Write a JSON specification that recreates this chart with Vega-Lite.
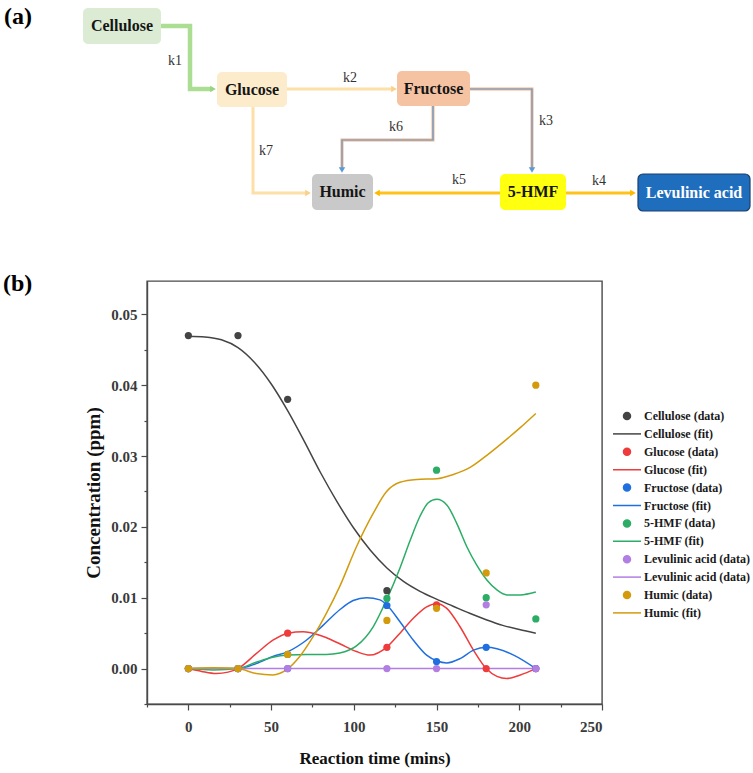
{
  "$schema": "https://vega.github.io/schema/vega-lite/v6.json",
  "autosize": {"type": "none"},
  "padding": {"left": 147, "top": 281, "right": 151, "bottom": 69},
  "width": 455,
  "height": 423,
  "background": "white",
  "config": {
    "font": "Liberation Serif",
    "view": {"stroke": "#4a4a4a", "strokeWidth": 1.4},
    "axis": {
      "grid": false,
      "domainColor": "#4a4a4a",
      "domainWidth": 1.4,
      "tickColor": "#4a4a4a",
      "tickWidth": 1.2,
      "labelFont": "Liberation Serif",
      "labelFontWeight": "bold",
      "labelFontSize": 15,
      "labelColor": "#3a3a3a",
      "titleFont": "Liberation Serif",
      "titleFontWeight": "bold",
      "titleColor": "#111111"
    }
  },
  "datasets": {
    "measured": [
      {"series": "Cellulose (data)", "time": 0, "conc": 0.047},
      {"series": "Cellulose (data)", "time": 30, "conc": 0.047},
      {"series": "Cellulose (data)", "time": 60, "conc": 0.038},
      {"series": "Cellulose (data)", "time": 120, "conc": 0.011},
      {"series": "Glucose (data)", "time": 0, "conc": 0},
      {"series": "Glucose (data)", "time": 30, "conc": 0},
      {"series": "Glucose (data)", "time": 60, "conc": 0.005},
      {"series": "Glucose (data)", "time": 120, "conc": 0.003},
      {"series": "Glucose (data)", "time": 150, "conc": 0.009},
      {"series": "Glucose (data)", "time": 180, "conc": 0},
      {"series": "Glucose (data)", "time": 210, "conc": 0},
      {"series": "Fructose (data)", "time": 0, "conc": 0},
      {"series": "Fructose (data)", "time": 30, "conc": 0},
      {"series": "Fructose (data)", "time": 60, "conc": 0},
      {"series": "Fructose (data)", "time": 120, "conc": 0.0089},
      {"series": "Fructose (data)", "time": 150, "conc": 0.001},
      {"series": "Fructose (data)", "time": 180, "conc": 0.003},
      {"series": "Fructose (data)", "time": 210, "conc": 0},
      {"series": "5-HMF (data)", "time": 0, "conc": 0},
      {"series": "5-HMF (data)", "time": 30, "conc": 0},
      {"series": "5-HMF (data)", "time": 60, "conc": 0.002},
      {"series": "5-HMF (data)", "time": 120, "conc": 0.0099},
      {"series": "5-HMF (data)", "time": 150, "conc": 0.028},
      {"series": "5-HMF (data)", "time": 180, "conc": 0.01},
      {"series": "5-HMF (data)", "time": 210, "conc": 0.007},
      {"series": "Levulinic acid (data)", "time": 0, "conc": 0},
      {"series": "Levulinic acid (data)", "time": 30, "conc": 0},
      {"series": "Levulinic acid (data)", "time": 60, "conc": 0},
      {"series": "Levulinic acid (data)", "time": 120, "conc": 0},
      {"series": "Levulinic acid (data)", "time": 150, "conc": 0},
      {"series": "Levulinic acid (data)", "time": 180, "conc": 0.009},
      {"series": "Levulinic acid (data)", "time": 210, "conc": 0},
      {"series": "Humic (data)", "time": 0, "conc": 0},
      {"series": "Humic (data)", "time": 30, "conc": 0},
      {"series": "Humic (data)", "time": 60, "conc": 0.002},
      {"series": "Humic (data)", "time": 120, "conc": 0.0068},
      {"series": "Humic (data)", "time": 150, "conc": 0.0085},
      {"series": "Humic (data)", "time": 180, "conc": 0.0135},
      {"series": "Humic (data)", "time": 210, "conc": 0.04}
    ],
    "fitted": [
      {"series": "Cellulose (fit)", "time": 0, "conc": 0.0469},
      {"series": "Cellulose (fit)", "time": 10, "conc": 0.0468},
      {"series": "Cellulose (fit)", "time": 20, "conc": 0.0464},
      {"series": "Cellulose (fit)", "time": 30, "conc": 0.0453},
      {"series": "Cellulose (fit)", "time": 40, "conc": 0.0432},
      {"series": "Cellulose (fit)", "time": 50, "conc": 0.0402},
      {"series": "Cellulose (fit)", "time": 60, "conc": 0.0364},
      {"series": "Cellulose (fit)", "time": 70, "conc": 0.0321},
      {"series": "Cellulose (fit)", "time": 80, "conc": 0.0276},
      {"series": "Cellulose (fit)", "time": 90, "conc": 0.0235},
      {"series": "Cellulose (fit)", "time": 100, "conc": 0.0198},
      {"series": "Cellulose (fit)", "time": 110, "conc": 0.0167},
      {"series": "Cellulose (fit)", "time": 120, "conc": 0.0142},
      {"series": "Cellulose (fit)", "time": 130, "conc": 0.0123},
      {"series": "Cellulose (fit)", "time": 140, "conc": 0.0109},
      {"series": "Cellulose (fit)", "time": 150, "conc": 0.0098},
      {"series": "Cellulose (fit)", "time": 160, "conc": 0.0088},
      {"series": "Cellulose (fit)", "time": 170, "conc": 0.0078},
      {"series": "Cellulose (fit)", "time": 180, "conc": 0.0069},
      {"series": "Cellulose (fit)", "time": 190, "conc": 0.0061},
      {"series": "Cellulose (fit)", "time": 200, "conc": 0.0055},
      {"series": "Cellulose (fit)", "time": 210, "conc": 0.005},
      {"series": "Glucose (fit)", "time": 0, "conc": 0},
      {"series": "Glucose (fit)", "time": 8, "conc": -0.0004},
      {"series": "Glucose (fit)", "time": 16.8, "conc": -0.0007},
      {"series": "Glucose (fit)", "time": 24, "conc": -0.0005},
      {"series": "Glucose (fit)", "time": 29.9, "conc": 0},
      {"series": "Glucose (fit)", "time": 41, "conc": 0.0021},
      {"series": "Glucose (fit)", "time": 51.1, "conc": 0.004},
      {"series": "Glucose (fit)", "time": 60.2, "conc": 0.005},
      {"series": "Glucose (fit)", "time": 69.3, "conc": 0.0052},
      {"series": "Glucose (fit)", "time": 79.4, "conc": 0.0047},
      {"series": "Glucose (fit)", "time": 91.5, "conc": 0.0035},
      {"series": "Glucose (fit)", "time": 101.6, "conc": 0.0024},
      {"series": "Glucose (fit)", "time": 109.7, "conc": 0.0019},
      {"series": "Glucose (fit)", "time": 119.8, "conc": 0.003},
      {"series": "Glucose (fit)", "time": 127.9, "conc": 0.005},
      {"series": "Glucose (fit)", "time": 136, "conc": 0.0071},
      {"series": "Glucose (fit)", "time": 144, "conc": 0.0087},
      {"series": "Glucose (fit)", "time": 150.1, "conc": 0.0092},
      {"series": "Glucose (fit)", "time": 156.2, "conc": 0.0085},
      {"series": "Glucose (fit)", "time": 164.2, "conc": 0.0059},
      {"series": "Glucose (fit)", "time": 172.3, "conc": 0.0026},
      {"series": "Glucose (fit)", "time": 180, "conc": 0},
      {"series": "Glucose (fit)", "time": 186.5, "conc": -0.0011},
      {"series": "Glucose (fit)", "time": 192.5, "conc": -0.0014},
      {"series": "Glucose (fit)", "time": 200.6, "conc": -0.0009},
      {"series": "Glucose (fit)", "time": 210, "conc": 0},
      {"series": "Fructose (fit)", "time": 0, "conc": 0},
      {"series": "Fructose (fit)", "time": 15, "conc": 0},
      {"series": "Fructose (fit)", "time": 29.9, "conc": 0},
      {"series": "Fructose (fit)", "time": 41, "conc": 0.0007},
      {"series": "Fructose (fit)", "time": 51.1, "conc": 0.0017},
      {"series": "Fructose (fit)", "time": 60.2, "conc": 0.0024},
      {"series": "Fructose (fit)", "time": 71.3, "conc": 0.004},
      {"series": "Fructose (fit)", "time": 81.4, "conc": 0.0061},
      {"series": "Fructose (fit)", "time": 91.5, "conc": 0.0083},
      {"series": "Fructose (fit)", "time": 99.6, "conc": 0.0096},
      {"series": "Fructose (fit)", "time": 107.7, "conc": 0.01},
      {"series": "Fructose (fit)", "time": 115.8, "conc": 0.0097},
      {"series": "Fructose (fit)", "time": 119.8, "conc": 0.009},
      {"series": "Fructose (fit)", "time": 127.9, "conc": 0.0066},
      {"series": "Fructose (fit)", "time": 136, "conc": 0.004},
      {"series": "Fructose (fit)", "time": 144, "conc": 0.0019},
      {"series": "Fructose (fit)", "time": 150.1, "conc": 0.0011},
      {"series": "Fructose (fit)", "time": 156.2, "conc": 0.0008},
      {"series": "Fructose (fit)", "time": 164.2, "conc": 0.0014},
      {"series": "Fructose (fit)", "time": 172.3, "conc": 0.0026},
      {"series": "Fructose (fit)", "time": 180, "conc": 0.003},
      {"series": "Fructose (fit)", "time": 186.5, "conc": 0.0028},
      {"series": "Fructose (fit)", "time": 196.6, "conc": 0.0019},
      {"series": "Fructose (fit)", "time": 210, "conc": 0},
      {"series": "5-HMF (fit)", "time": 0, "conc": 0},
      {"series": "5-HMF (fit)", "time": 15, "conc": -0.0002},
      {"series": "5-HMF (fit)", "time": 29.9, "conc": 0},
      {"series": "5-HMF (fit)", "time": 41, "conc": 0.0009},
      {"series": "5-HMF (fit)", "time": 51.1, "conc": 0.0016},
      {"series": "5-HMF (fit)", "time": 60.2, "conc": 0.0019},
      {"series": "5-HMF (fit)", "time": 71.3, "conc": 0.002},
      {"series": "5-HMF (fit)", "time": 83.4, "conc": 0.002},
      {"series": "5-HMF (fit)", "time": 91.5, "conc": 0.0022},
      {"series": "5-HMF (fit)", "time": 101.6, "conc": 0.0032},
      {"series": "5-HMF (fit)", "time": 111.7, "conc": 0.0059},
      {"series": "5-HMF (fit)", "time": 119.8, "conc": 0.0097},
      {"series": "5-HMF (fit)", "time": 127.9, "conc": 0.0142},
      {"series": "5-HMF (fit)", "time": 133.9, "conc": 0.018},
      {"series": "5-HMF (fit)", "time": 140, "conc": 0.0215},
      {"series": "5-HMF (fit)", "time": 145, "conc": 0.0234},
      {"series": "5-HMF (fit)", "time": 150.1, "conc": 0.0239},
      {"series": "5-HMF (fit)", "time": 156.2, "conc": 0.0231},
      {"series": "5-HMF (fit)", "time": 162.2, "conc": 0.0205},
      {"series": "5-HMF (fit)", "time": 168.3, "conc": 0.0172},
      {"series": "5-HMF (fit)", "time": 174.3, "conc": 0.0146},
      {"series": "5-HMF (fit)", "time": 180.4, "conc": 0.0125},
      {"series": "5-HMF (fit)", "time": 186.5, "conc": 0.0111},
      {"series": "5-HMF (fit)", "time": 192.5, "conc": 0.0104},
      {"series": "5-HMF (fit)", "time": 200.6, "conc": 0.0104},
      {"series": "5-HMF (fit)", "time": 210, "conc": 0.0108},
      {"series": "Levulinic acid (fit)", "time": 0, "conc": 0},
      {"series": "Levulinic acid (fit)", "time": 210, "conc": 0},
      {"series": "Humic (fit)", "time": 0, "conc": 0},
      {"series": "Humic (fit)", "time": 15, "conc": 0.0001},
      {"series": "Humic (fit)", "time": 29.9, "conc": 0},
      {"series": "Humic (fit)", "time": 41, "conc": -0.0007},
      {"series": "Humic (fit)", "time": 51.1, "conc": -0.0009},
      {"series": "Humic (fit)", "time": 59.2, "conc": -0.0002},
      {"series": "Humic (fit)", "time": 67.3, "conc": 0.0017},
      {"series": "Humic (fit)", "time": 75.4, "conc": 0.0045},
      {"series": "Humic (fit)", "time": 83.4, "conc": 0.0078},
      {"series": "Humic (fit)", "time": 91.5, "conc": 0.0116},
      {"series": "Humic (fit)", "time": 101.6, "conc": 0.0172},
      {"series": "Humic (fit)", "time": 111.7, "conc": 0.0219},
      {"series": "Humic (fit)", "time": 119.8, "conc": 0.025},
      {"series": "Humic (fit)", "time": 127.9, "conc": 0.0263},
      {"series": "Humic (fit)", "time": 138, "conc": 0.0267},
      {"series": "Humic (fit)", "time": 150.1, "conc": 0.0268},
      {"series": "Humic (fit)", "time": 160.2, "conc": 0.0274},
      {"series": "Humic (fit)", "time": 170.3, "conc": 0.0284},
      {"series": "Humic (fit)", "time": 180.4, "conc": 0.0301},
      {"series": "Humic (fit)", "time": 190.5, "conc": 0.032},
      {"series": "Humic (fit)", "time": 200.6, "conc": 0.034},
      {"series": "Humic (fit)", "time": 210, "conc": 0.036}
    ],
    "nodes": [
      {"node": "Cellulose", "x0": 83, "x1": 161, "y0": 8, "y1": 44, "cx": 122, "cy": 26},
      {"node": "Glucose", "x0": 217, "x1": 287, "y0": 72, "y1": 107, "cx": 252, "cy": 90},
      {"node": "Fructose", "x0": 397, "x1": 470, "y0": 71, "y1": 106, "cx": 433.5, "cy": 89},
      {"node": "Humic", "x0": 312, "x1": 373, "y0": 174, "y1": 210, "cx": 342.5, "cy": 192},
      {"node": "5-HMF", "x0": 500, "x1": 566, "y0": 174, "y1": 210, "cx": 533, "cy": 192},
      {"node": "Levulinic acid", "x0": 638, "x1": 750, "y0": 174, "y1": 211, "cx": 694, "cy": 192.5}
    ],
    "links": [
      {"edge": "k1", "step": 1, "gx": 161, "gy": 26},
      {"edge": "k1", "step": 2, "gx": 190, "gy": 26},
      {"edge": "k1", "step": 3, "gx": 190, "gy": 89},
      {"edge": "k1", "step": 4, "gx": 211, "gy": 89},
      {"edge": "k2", "step": 1, "gx": 287, "gy": 89},
      {"edge": "k2", "step": 2, "gx": 392, "gy": 89},
      {"edge": "k7", "step": 1, "gx": 253, "gy": 107},
      {"edge": "k7", "step": 2, "gx": 253, "gy": 193},
      {"edge": "k7", "step": 3, "gx": 306, "gy": 193},
      {"edge": "k6", "step": 1, "gx": 433, "gy": 106},
      {"edge": "k6", "step": 2, "gx": 433, "gy": 140},
      {"edge": "k6", "step": 3, "gx": 342, "gy": 140},
      {"edge": "k6", "step": 4, "gx": 342, "gy": 168},
      {"edge": "k3", "step": 1, "gx": 470, "gy": 89},
      {"edge": "k3", "step": 2, "gx": 532, "gy": 89},
      {"edge": "k3", "step": 3, "gx": 532, "gy": 168},
      {"edge": "k5", "step": 1, "gx": 500, "gy": 193},
      {"edge": "k5", "step": 2, "gx": 379, "gy": 193},
      {"edge": "k4", "step": 1, "gx": 566, "gy": 193},
      {"edge": "k4", "step": 2, "gx": 631, "gy": 193}
    ],
    "heads": [
      {"edge": "k1", "dir": "right", "hx": 213, "hy": 89},
      {"edge": "k2", "dir": "right", "hx": 394, "hy": 89},
      {"edge": "k7", "dir": "right", "hx": 308, "hy": 193},
      {"edge": "k6", "dir": "down", "hx": 342, "hy": 170},
      {"edge": "k3", "dir": "down", "hx": 532, "hy": 170},
      {"edge": "k5", "dir": "left", "hx": 377, "hy": 193},
      {"edge": "k4", "dir": "right", "hx": 633, "hy": 193}
    ],
    "rates": [
      {"rate": "k1", "lx": 175, "ly": 61},
      {"rate": "k2", "lx": 350, "ly": 78},
      {"rate": "k3", "lx": 546, "ly": 121},
      {"rate": "k4", "lx": 599, "ly": 181},
      {"rate": "k5", "lx": 459, "ly": 180},
      {"rate": "k6", "lx": 396, "ly": 127},
      {"rate": "k7", "lx": 266, "ly": 151}
    ],
    "tags": [
      {"tag": "(a)", "tx": 4, "ty": 17},
      {"tag": "(b)", "tx": 3, "ty": 284}
    ]
  },
  "resolve": {"scale": {"x": "independent", "y": "independent"}},
  "layer": [
    {
      "resolve": {"axis": {"x": "independent", "y": "independent"}},
      "layer": [
        {
          "data": {"name": "fitted"},
          "mark": {"type": "line", "interpolate": "monotone", "strokeWidth": 1.5},
          "encoding": {
            "x": {
              "field": "time", "type": "quantitative",
              "scale": {"domain": [-25, 250], "nice": false, "zero": false},
              "axis": {"orient": "bottom", "values": [-25, 25, 75, 125, 175, 225], "labels": false, "domain": false, "tickSize": 3, "title": null}
            },
            "y": {
              "field": "conc", "type": "quantitative",
              "scale": {"domain": [-0.005, 0.0547], "nice": false, "zero": false},
              "axis": {"orient": "left", "values": [-0.005, 0.005, 0.015, 0.025, 0.035, 0.045], "labels": false, "domain": false, "tickSize": 3, "title": null}
            },
            "color": {
              "field": "series", "type": "nominal",
              "scale": {
                "domain": ["Cellulose (data)", "Cellulose (fit)", "Glucose (data)", "Glucose (fit)", "Fructose (data)", "Fructose (fit)", "5-HMF (data)", "5-HMF (fit)", "Levulinic acid (data)", "Levulinic acid (fit)", "Humic (data)", "Humic (fit)"],
                "range": ["#444444", "#444444", "#ef3b3b", "#ef3b3b", "#1f6fe0", "#1f6fe0", "#2bad65", "#2bad65", "#b27ee3", "#b27ee3", "#d39b0c", "#d39b0c"]
              },
              "legend": {
                "title": null, "orient": "none", "legendX": 465, "legendY": 127, "padding": 0,
                "clipHeight": 16, "rowPadding": 1.9, "symbolSize": 784, "symbolStrokeWidth": 1.5, "symbolOpacity": 1,
                "labelOffset": 2, "labelFont": "Liberation Serif", "labelFontWeight": "bold", "labelFontSize": 12, "labelColor": "#1a1a1a", "labelLimit": 200,
                "labelExpr": "datum.label === 'Levulinic acid (fit)' ? 'Levulinic acid (data)' : datum.label",
                "encode": {
                  "symbols": {
                    "update": {
                      "shape": {"signal": "indexof(datum.value, '(fit)') >= 0 ? 'M-1,0H1' : 'M-0.25,0A0.25,0.25 0 1,0 0.25,0A0.25,0.25 0 1,0 -0.25,0Z'"},
                      "fill": {"signal": "indexof(datum.value, '(fit)') >= 0 ? 'transparent' : scale('color', datum.value)"},
                      "stroke": {"signal": "indexof(datum.value, '(fit)') >= 0 ? scale('color', datum.value) : 'transparent'"},
                      "strokeWidth": {"value": 1.5},
                      "opacity": {"value": 1}
                    }
                  }
                }
              }
            }
          }
        },
        {
          "data": {"name": "measured"},
          "mark": {"type": "point", "filled": true, "size": 52, "opacity": 1},
          "encoding": {
            "x": {
              "field": "time", "type": "quantitative",
              "scale": {"domain": [-25, 250], "nice": false, "zero": false},
              "axis": {"orient": "bottom", "values": [0, 50, 100, 150, 200, 250], "format": "d", "tickSize": 6, "labelPadding": 9, "title": "Reaction time (mins)", "titleFontSize": 17, "titlePadding": 16}
            },
            "y": {
              "field": "conc", "type": "quantitative",
              "scale": {"domain": [-0.005, 0.0547], "nice": false, "zero": false},
              "axis": {"orient": "left", "values": [0, 0.01, 0.02, 0.03, 0.04, 0.05], "format": ".2f", "tickSize": 6, "labelPadding": 4, "title": "Concentration (ppm)", "titleFontSize": 19, "titlePadding": 7}
            },
            "color": {
              "field": "series", "type": "nominal",
              "scale": {
                "domain": ["Cellulose (data)", "Cellulose (fit)", "Glucose (data)", "Glucose (fit)", "Fructose (data)", "Fructose (fit)", "5-HMF (data)", "5-HMF (fit)", "Levulinic acid (data)", "Levulinic acid (fit)", "Humic (data)", "Humic (fit)"],
                "range": ["#444444", "#444444", "#ef3b3b", "#ef3b3b", "#1f6fe0", "#1f6fe0", "#2bad65", "#2bad65", "#b27ee3", "#b27ee3", "#d39b0c", "#d39b0c"]
              },
              "legend": {
                "title": null, "orient": "none", "legendX": 465, "legendY": 127, "padding": 0,
                "clipHeight": 16, "rowPadding": 1.9, "symbolSize": 784, "symbolStrokeWidth": 1.5, "symbolOpacity": 1,
                "labelOffset": 2, "labelFont": "Liberation Serif", "labelFontWeight": "bold", "labelFontSize": 12, "labelColor": "#1a1a1a", "labelLimit": 200,
                "labelExpr": "datum.label === 'Levulinic acid (fit)' ? 'Levulinic acid (data)' : datum.label",
                "encode": {
                  "symbols": {
                    "update": {
                      "shape": {"signal": "indexof(datum.value, '(fit)') >= 0 ? 'M-1,0H1' : 'M-0.25,0A0.25,0.25 0 1,0 0.25,0A0.25,0.25 0 1,0 -0.25,0Z'"},
                      "fill": {"signal": "indexof(datum.value, '(fit)') >= 0 ? 'transparent' : scale('color', datum.value)"},
                      "stroke": {"signal": "indexof(datum.value, '(fit)') >= 0 ? scale('color', datum.value) : 'transparent'"},
                      "strokeWidth": {"value": 1.5},
                      "opacity": {"value": 1}
                    }
                  }
                }
              }
            }
          }
        }
      ]
    },
    {
      "layer": [
        {
          "data": {"name": "links"},
          "mark": {"type": "line", "strokeCap": "butt", "strokeJoin": "miter"},
          "encoding": {
            "x": {"field": "gx", "type": "quantitative", "scale": {"domain": [147, 602], "nice": false, "zero": false}, "axis": null},
            "y": {"field": "gy", "type": "quantitative", "scale": {"domain": [281, 704], "reverse": true, "nice": false, "zero": false}, "axis": null},
            "detail": {"field": "edge", "type": "nominal"},
            "order": {"field": "step", "type": "quantitative"},
            "stroke": {
              "field": "edge", "type": "nominal",
              "scale": {"domain": ["k1", "k2", "k3", "k4", "k5", "k6", "k7"], "range": ["#abdd93", "#fde0a8", "#f4b48a", "#ffc21a", "#ffc21a", "#f4b48a", "#fde0a8"]},
              "legend": null
            },
            "strokeWidth": {"condition": {"test": "datum.edge === 'k1'", "value": 4.5}, "value": 3}
          }
        },
        {
          "data": {"name": "links"},
          "transform": [{"filter": {"field": "edge", "oneOf": ["k3", "k6"]}}],
          "mark": {"type": "line", "stroke": "#5b9bd5", "strokeWidth": 1.2, "strokeCap": "butt"},
          "encoding": {
            "x": {"field": "gx", "type": "quantitative", "axis": null},
            "y": {"field": "gy", "type": "quantitative", "axis": null},
            "detail": {"field": "edge", "type": "nominal"},
            "order": {"field": "step", "type": "quantitative"}
          }
        },
        {
          "data": {"name": "nodes"},
          "mark": {"type": "rect", "cornerRadius": 5},
          "encoding": {
            "x": {"field": "x0", "type": "quantitative", "axis": null},
            "x2": {"field": "x1"},
            "y": {"field": "y0", "type": "quantitative", "axis": null},
            "y2": {"field": "y1"},
            "fill": {
              "field": "node", "type": "nominal",
              "scale": {
                "domain": ["Cellulose", "Glucose", "Fructose", "Humic", "5-HMF", "Levulinic acid", "k1", "k2", "k3", "k4", "k5", "k6", "k7"],
                "range": ["#dcecd4", "#fdeccb", "#f5c3a2", "#c9c9c9", "#ffff10", "#1f6ebd", "#97d47e", "#fbd08a", "#5b9bd5", "#ffb800", "#ffb800", "#5b9bd5", "#fbd08a"]
              },
              "legend": null
            },
            "stroke": {"condition": {"test": "datum.node === 'Levulinic acid'", "value": "#1c3f6e"}, "value": null},
            "strokeWidth": {"value": 1.2}
          }
        },
        {
          "data": {"name": "heads"},
          "mark": {"type": "point", "filled": true, "opacity": 1, "size": 42},
          "encoding": {
            "x": {"field": "hx", "type": "quantitative", "axis": null},
            "y": {"field": "hy", "type": "quantitative", "axis": null},
            "shape": {
              "field": "dir", "type": "nominal",
              "scale": {"domain": ["right", "down", "left"], "range": ["triangle-right", "triangle-down", "triangle-left"]},
              "legend": null
            },
            "fill": {"field": "edge", "type": "nominal", "legend": null}
          }
        },
        {
          "data": {"name": "nodes"},
          "mark": {"type": "text", "font": "Liberation Serif", "fontWeight": "bold", "fontSize": 16, "align": "center", "baseline": "middle"},
          "encoding": {
            "x": {"field": "cx", "type": "quantitative", "axis": null},
            "y": {"field": "cy", "type": "quantitative", "axis": null},
            "text": {"field": "node"},
            "fill": {"condition": {"test": "datum.node === 'Levulinic acid'", "value": "#ffffff"}, "value": "#151515"}
          }
        },
        {
          "data": {"name": "rates"},
          "mark": {"type": "text", "font": "Liberation Serif", "fontSize": 14, "align": "center", "baseline": "middle", "fill": "#333333"},
          "encoding": {
            "x": {"field": "lx", "type": "quantitative", "axis": null},
            "y": {"field": "ly", "type": "quantitative", "axis": null},
            "text": {"field": "rate"}
          }
        },
        {
          "data": {"name": "tags"},
          "mark": {"type": "text", "font": "Liberation Serif", "fontWeight": "bold", "fontSize": 24, "align": "left", "baseline": "middle", "fill": "#000000"},
          "encoding": {
            "x": {"field": "tx", "type": "quantitative", "axis": null},
            "y": {"field": "ty", "type": "quantitative", "axis": null},
            "text": {"field": "tag"}
          }
        }
      ]
    }
  ]
}
